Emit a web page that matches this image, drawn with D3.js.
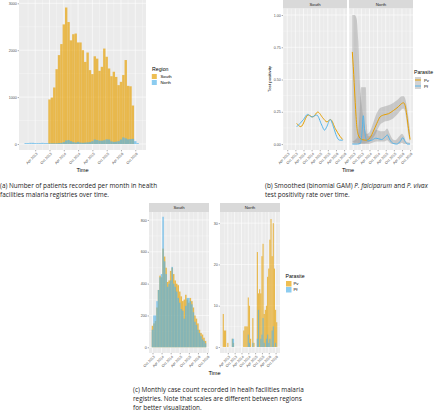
<!DOCTYPE html>
<html><head><meta charset="utf-8">
<script src="https://cdn.jsdelivr.net/npm/d3@7"></script>
<style>
body{margin:0;background:#fff;}
svg{display:block;}
</style></head><body>
<svg id="c" width="440" height="411"></svg>
<script>
// ---------- DATA ----------
// months are counted from Jan 2013 (= 0)
const tickMonths = [3, 9, 15, 21, 27, 33, 39, 45];
const tickLabels = ["Apr 2013","Oct 2013","Apr 2014","Oct 2014","Apr 2015","Oct 2015","Apr 2016","Oct 2016"];
const tickMonthsSouthC = [9, 15, 21, 27, 33, 39, 45];
const tickLabelsSouthC = ["Oct 2013","Apr 2014","Oct 2014","Apr 2015","Oct 2015","Apr 2016","Oct 2016"];

// (a) patients per month
const regions = ["South", "North"];
const southStart = 9;   // Oct 2013
const southPatients = [950,990,1205,1595,1895,2130,2550,2910,2600,2210,2340,2355,2165,2165,2000,1750,1950,1575,1490,1870,1820,1560,1645,2035,1860,1610,1445,1540,1430,1255,1325,1470,1790,1240,1230,820];
const northStart = -1;  // Dec 2012
const northPatients = [20,20,25,25,20,20,20,25,20,20,15,15,15,15,20,25,40,75,85,60,40,30,45,30,25,30,35,40,60,95,85,70,70,80,100,95,55,45,50,60,95,140,120,100,105,110,60,20];

// (b) smoothed test positivity: [month, value]
const parasites = ["Pv", "Pf"];
const southPvSmooth = [[10,0.16],[13,0.135],[18.5,0.225],[22,0.21],[25.5,0.248],[29.5,0.2],[32.3,0.172],[35,0.19],[38.5,0.12],[42,0.06],[44,0.035]];
const southPfSmooth = [[10,0.134],[15,0.19],[18,0.23],[21,0.21],[24.8,0.225],[28.5,0.147],[30.5,0.108],[32.2,0.134],[34.7,0.19],[37.1,0.134],[39.6,0.057],[41.5,0.031],[44,0.03]];
const northPvSmooth = [[2.3,0.714],[3,0.6],[4.3,0.35],[5.5,0.15],[6.7,0.07],[9.3,0.035],[13,0.03],[15.4,0.05],[17.9,0.1],[20.4,0.16],[22.8,0.21],[25.3,0.225],[29,0.235],[32.7,0.26],[36.4,0.29],[38.9,0.315],[40.1,0.32],[41.3,0.3],[42.6,0.22],[43.8,0.12],[45,0.035]];
const northPfSmooth = [[2.3,0.0],[6,0.0],[8.3,0.005],[9.5,0.1],[10.4,0.22],[11.3,0.12],[12.4,0.04],[14,0.025],[16.7,0.03],[19.5,0.045],[21.5,0.042],[24,0.035],[26,0.05],[28.2,0.07],[30.2,0.03],[32.5,0.005],[35.2,0.0],[38,0.025],[39.6,0.05],[41.3,0.02],[43,0.0],[45,0.0]];
// confidence bands: [month, low, high]
const northPvBand = [[2.3,0.02,1.0],[4,0.01,1.0],[5.5,0.01,0.97],[6.7,0.005,0.8],[8,0.005,0.45],[9.3,0.005,0.3],[11,0.005,0.15],[13,0.01,0.08],[15.4,0.02,0.1],[17.9,0.05,0.17],[20.4,0.1,0.24],[22.8,0.15,0.28],[25.3,0.17,0.29],[29,0.18,0.3],[32.7,0.2,0.32],[36.4,0.24,0.35],[38.9,0.27,0.37],[40.1,0.275,0.37],[41.3,0.25,0.355],[42.6,0.16,0.29],[43.8,0.07,0.2],[45,0.01,0.1]];
const northPfBand = [[2.3,0,0.02],[6,0,0.05],[8,0,0.3],[8.7,0,0.44],[12.3,0,0.44],[13,0,0.15],[14,0,0.06],[17,0.01,0.07],[20,0.02,0.11],[23,0.02,0.1],[26,0.02,0.1],[28,0.03,0.12],[30,0.01,0.08],[32,0,0.04],[34,0,0.03],[37,0,0.06],[39,0.01,0.08],[40.5,0,0.06],[42,0,0.02],[45,0,0.01]];

// (c) monthly case counts
const southPv = [135,150,165,250,360,450,440,620,570,500,410,420,480,500,460,420,400,390,350,320,290,300,330,300,280,310,290,250,200,180,150,110,90,80,60,40];
const southPf = [110,200,200,290,360,440,460,820,540,460,380,400,420,505,400,380,350,310,280,240,230,180,260,310,310,290,270,220,160,140,110,90,70,50,40,25];
const northPv = [8,4,4,0,1,0,0,0,2,1,0,0,0,0,0,0,0,0,4,5,5,5,12,10,2,0,7,1,0,0,23,13,14,13,22,25,8,9,10,17,19,26,31,22,30,19,9,6];
const northPf = [0,0,0,0,0,0,0,0,2,2,0,0,0,0,0,0,0,0,0,0,0,0,3,1,0,0,1,0,0,0,2,9,0,2,3,7,1,0,2,3,1,2,0,4,5,0,1,0];

// ---------- STYLE ----------
const FONT = '"Liberation Sans", Arial, Helvetica, sans-serif';
const CAPFONT = '"Open Sans", "Liberation Sans", sans-serif';
const ORANGE = "#E69F00", BLUE = "#56B4E9", ALPHA = 0.68;
const svg = d3.select("#c");

function panel(g, x, y, o) {
  const [xa, xb] = x.range(), [ya, yb] = y.range();
  g.append("rect").attr("x", xa).attr("y", yb).attr("width", xb - xa).attr("height", ya - yb).attr("fill", "#EBEBEB");
  const inX = v => x(v) >= xa && x(v) <= xb;
  const gl = (vals, w, vert) => g.append("g").selectAll("line").data(vals.filter(v => vert ? inX(v) : true)).join("line")
    .attr("x1", d => vert ? x(d) : xa).attr("x2", d => vert ? x(d) : xb)
    .attr("y1", d => vert ? yb : y(d)).attr("y2", d => vert ? ya : y(d))
    .attr("stroke", "#fff").attr("stroke-width", w);
  gl(o.yMinor, 0.3, false); gl(o.xMinor, 0.3, true);
  gl(o.yMajor, 0.6, false); gl(o.xMajor, 0.6, true);
}
function yAxis(g, y, x0, vals, fmt) {
  const a = g.append("g").attr("transform", `translate(${x0},0)`)
    .call(d3.axisLeft(y).tickValues(vals).tickFormat(fmt).tickSize(1.3).tickPadding(0.9));
  a.select(".domain").remove();
  a.selectAll("line").attr("stroke", "#333").attr("stroke-width", 0.4);
  a.selectAll("text").attr("font-size", 3.6).attr("fill", "#4D4D4D").attr("font-family", FONT);
}
function xAxis(g, x, y0, vals, labels) {
  const a = g.append("g").attr("transform", `translate(0,${y0})`)
    .call(d3.axisBottom(x).tickValues(vals).tickFormat((d, i) => labels[i]).tickSize(1.3));
  a.select(".domain").remove();
  a.selectAll("line").attr("stroke", "#333").attr("stroke-width", 0.4);
  a.selectAll("text").attr("x", 0).attr("y", 0).attr("dy", "0.35em")
    .attr("text-anchor", "end").attr("transform", "translate(1.3,3.2) rotate(-45)")
    .attr("font-size", 3.6).attr("fill", "#4D4D4D").attr("font-family", FONT);
}
function minorOf(ticks) { return ticks.map(t => t - 3).concat([ticks[ticks.length - 1] + 3]); }
function strip(g, x0, x1, y0, y1, label) {
  g.append("rect").attr("x", x0).attr("y", y0).attr("width", x1 - x0).attr("height", y1 - y0).attr("fill", "#D9D9D9");
  g.append("text").attr("x", (x0 + x1) / 2).attr("y", (y0 + y1) / 2).attr("dy", "0.35em").attr("text-anchor", "middle")
    .attr("font-size", 4.3).attr("fill", "#1A1A1A").attr("font-family", FONT).text(label);
}
function bars(g, x, y, startM, vals, color) {
  g.append("g").selectAll("rect").data(vals.map((v, i) => ({ m: startM + i, v }))).join("rect")
    .attr("x", d => x(d.m - 0.5)).attr("width", d => x(d.m + 0.5) - x(d.m - 0.5))
    .attr("y", d => y(Math.max(d.v, 0))).attr("height", d => y(0) - y(Math.max(d.v, 0)))
    .attr("fill", color).attr("fill-opacity", ALPHA);
}
function text(g, x, y, s, size, opts = {}) {
  const t = g.append("text").attr("x", x).attr("y", y).attr("font-size", size)
    .attr("font-family", opts.font || FONT).attr("fill", opts.fill || "#000").text(s);
  if (opts.anchor) t.attr("text-anchor", opts.anchor);
  if (opts.rotate) t.attr("transform", `rotate(-90,${x},${y})`);
  return t;
}
function caption(g, x, y, lines, lh) {
  lines.forEach((parts, i) => {
    const t = g.append("text").attr("x", x).attr("y", y + i * lh).attr("font-size", 6.4)
      .attr("font-family", CAPFONT).attr("fill", "#222");
    parts.forEach(p => t.append("tspan").attr("font-style", p[1] ? "italic" : "normal").text(p[0]));
  });
}

// ---------- (a) ----------
const gA = svg.append("g");
const xA = d3.scaleLinear([-3.8, 49.5], [19, 146]);
const yA = d3.scaleLinear([-128, 3070], [150, 0]);
panel(gA, xA, yA, { xMajor: tickMonths, xMinor: minorOf(tickMonths), yMajor: [0, 1000, 2000, 3000], yMinor: [500, 1500, 2500] });
bars(gA, xA, yA, southStart, southPatients, ORANGE);
bars(gA, xA, yA, northStart, northPatients, BLUE);
yAxis(gA, yA, 19, [0, 1000, 2000, 3000], d3.format("d"));
xAxis(gA, xA, 150, tickMonths, tickLabels);
text(gA, 82.5, 172, "Time", 5.6, { anchor: "middle" });
text(gA, 152, 70.5, "Region", 5.2);
[ORANGE, BLUE].forEach((c, i) => {
  gA.append("rect").attr("x", 151.8).attr("y", 74 + i * 6).attr("width", 5).attr("height", 5).attr("fill", c).attr("fill-opacity", ALPHA);
  text(gA, 160.5, 77.9 + i * 6, regions[i], 4.3);
});
caption(gA, 0, 187.5, [[["(a) Number of patients recorded per month in health"]], [["facilities malaria registries over time."]]], 9.4);

// ---------- (b) ----------
const gB = svg.append("g");
const yB = d3.scaleLinear([-0.046, 1.052], [150, 8.3]);
const xBS = d3.scaleLinear([-0.15, 47.15], [283, 347]);
const xBN = d3.scaleLinear([-0.15, 47.15], [349, 413]);
const yTicksB = [0, 0.25, 0.5, 0.75, 1];
[xBS, xBN].forEach(x => panel(gB, x, yB, { xMajor: tickMonths, xMinor: minorOf(tickMonths), yMajor: yTicksB, yMinor: [0.125, 0.375, 0.625, 0.875] }));
strip(gB, 283, 347, 0, 8.3, "South");
strip(gB, 349, 413, 0, 8.3, "North");
const band = (x) => d3.area().x(d => x(d[0])).y0(d => yB(d[1])).y1(d => yB(d[2])).curve(d3.curveMonotoneX);
const lineB = (x) => d3.line().x(d => x(d[0])).y(d => yB(d[1])).curve(d3.curveMonotoneX);
gB.append("path").attr("d", band(xBN)(northPvBand)).attr("fill", "#8C8C8C").attr("fill-opacity", 0.38);
gB.append("path").attr("d", band(xBN)(northPfBand)).attr("fill", "#8C8C8C").attr("fill-opacity", 0.38);
[[xBS, southPvSmooth, ORANGE], [xBS, southPfSmooth, BLUE], [xBN, northPvSmooth, ORANGE], [xBN, northPfSmooth, BLUE]].forEach(([x, d, c]) => {
  gB.append("path").attr("d", lineB(x)(d)).attr("fill", "none").attr("stroke", c).attr("stroke-width", 1);
});
yAxis(gB, yB, 283, yTicksB, d3.format(".2f"));
xAxis(gB, xBS, 150, tickMonths, tickLabels);
xAxis(gB, xBN, 150, tickMonths, tickLabels);
text(gB, 271.3, 79, "Test positivity", 4.4, { anchor: "middle", rotate: true });
text(gB, 348, 172, "Time", 5.6, { anchor: "middle" });
text(gB, 414, 74, "Parasite", 5.2);
[ORANGE, BLUE].forEach((c, i) => {
  gB.append("rect").attr("x", 415).attr("y", 77 + i * 6).attr("width", 6).attr("height", 6).attr("fill", "#8C8C8C").attr("fill-opacity", 0.38);
  gB.append("line").attr("x1", 415).attr("x2", 421).attr("y1", 80 + i * 6).attr("y2", 80 + i * 6).attr("stroke", c).attr("stroke-width", 1);
  text(gB, 424, 81.6 + i * 6, parasites[i], 4.3);
});
caption(gB, 265, 187.5, [[["(b) Smoothed (binomial GAM) "], ["P. falciparum", 1], [" and "], ["P. vivax", 1]], [["test positivity rate over time."]]], 9.4);

// ---------- (c) ----------
const gC = svg.append("g");
const xCS = d3.scaleLinear([6.7, 46.3], [149, 209]);
const xCN = d3.scaleLinear([-3.9, 48.9], [220, 280]);
const yCS = d3.scaleLinear([-36, 850], [353, 212]);
const yCN = d3.scaleLinear([-1.45, 32.7], [353, 212]);
panel(gC, xCS, yCS, { xMajor: tickMonthsSouthC, xMinor: minorOf(tickMonthsSouthC), yMajor: [0, 200, 400, 600, 800], yMinor: [100, 300, 500, 700] });
panel(gC, xCN, yCN, { xMajor: tickMonths, xMinor: minorOf(tickMonths), yMajor: [0, 10, 20, 30], yMinor: [5, 15, 25] });
strip(gC, 149, 209, 203, 212, "South");
strip(gC, 220, 280, 203, 212, "North");
bars(gC, xCS, yCS, southStart, southPv, ORANGE);
bars(gC, xCS, yCS, southStart, southPf, BLUE);
bars(gC, xCN, yCN, northStart, northPv, ORANGE);
bars(gC, xCN, yCN, northStart, northPf, BLUE);
yAxis(gC, yCS, 149, [0, 200, 400, 600, 800], d3.format("d"));
yAxis(gC, yCN, 220, [0, 10, 20, 30], d3.format("d"));
xAxis(gC, xCS, 353, tickMonthsSouthC, tickLabelsSouthC);
xAxis(gC, xCN, 353, tickMonths, tickLabels);
text(gC, 214.5, 375, "Time", 5.6, { anchor: "middle" });
text(gC, 285.5, 277.5, "Parasite", 5.2);
[ORANGE, BLUE].forEach((c, i) => {
  gC.append("rect").attr("x", 286).attr("y", 281 + i * 6).attr("width", 5.5).attr("height", 5.5).attr("fill", c).attr("fill-opacity", ALPHA);
  text(gC, 293.5, 285.2 + i * 6, parasites[i], 4.3);
});
caption(gC, 133, 391.5, [[["(c) Monthly case count recorded in healh facilities malaria"]], [["registries. Note that scales are different between regions"]], [["for better visualization."]]], 9.3);
</script>
</body></html>
